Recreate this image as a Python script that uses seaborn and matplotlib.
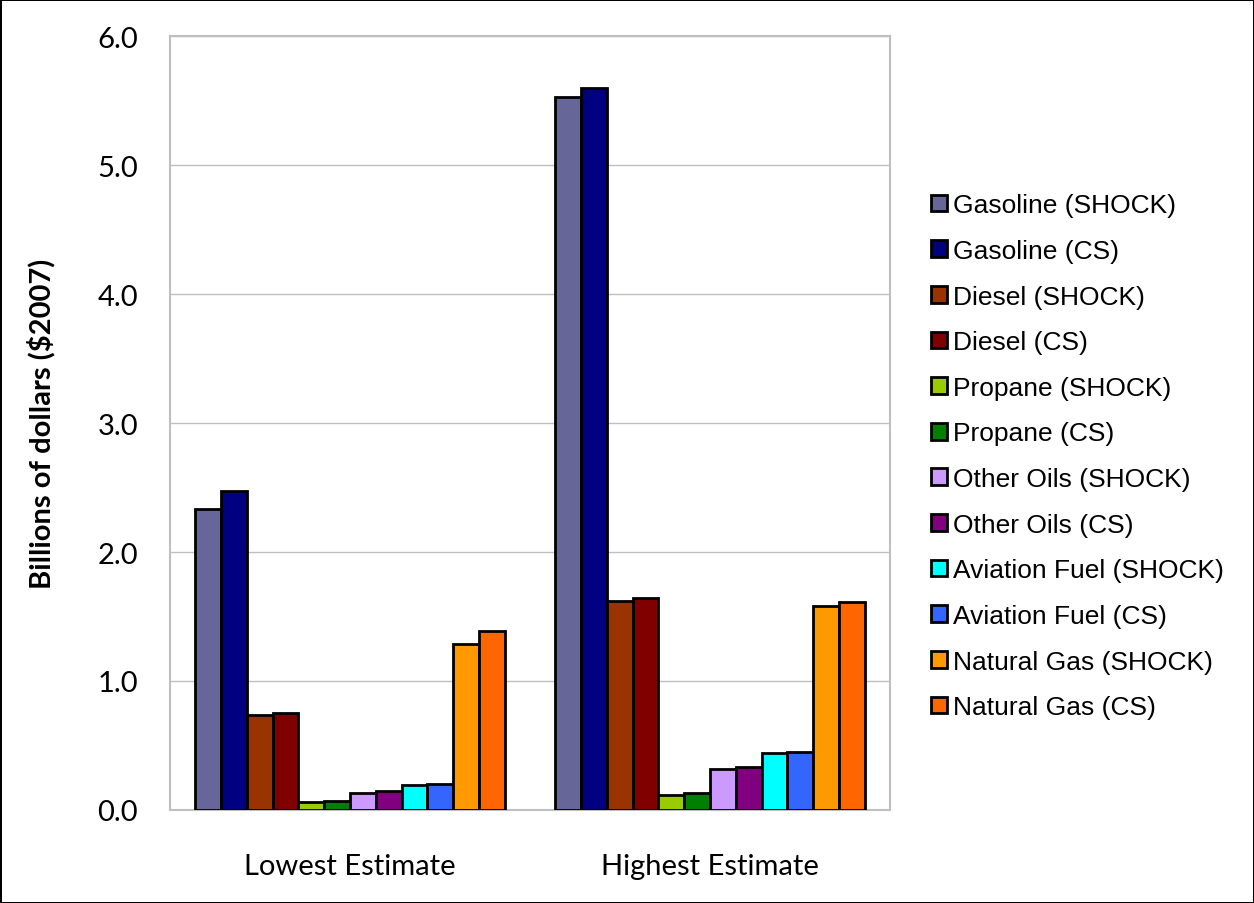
import pandas as pd
import seaborn as sns
import matplotlib.pyplot as plt

# values (billions of 2007 dollars)
estimates = ["Lowest Estimate", "Highest Estimate"]
series = ["Gasoline (SHOCK)", "Gasoline (CS)", "Diesel (SHOCK)", "Diesel (CS)",
          "Propane (SHOCK)", "Propane (CS)", "Other Oils (SHOCK)", "Other Oils (CS)",
          "Aviation Fuel (SHOCK)", "Aviation Fuel (CS)", "Natural Gas (SHOCK)",
          "Natural Gas (CS)"]
lowest = [2.33, 2.47, 0.74, 0.75, 0.06, 0.07, 0.13, 0.15, 0.19, 0.20, 1.29, 1.39]
highest = [5.53, 5.60, 1.62, 1.64, 0.12, 0.13, 0.32, 0.33, 0.44, 0.45, 1.58, 1.61]
colors = ["#666699", "#000080", "#993300", "#800000", "#99CC00", "#008000",
          "#CC99FF", "#800080", "#00FFFF", "#3366FF", "#FF9900", "#FF6600"]

df = pd.DataFrame({
    "estimate": [estimates[0]] * len(series) + [estimates[1]] * len(series),
    "series": series * 2,
    "value": lowest + highest,
})

sns.set_style("white", {"text.color": "black", "axes.labelcolor": "black",
                        "xtick.color": "black", "ytick.color": "black"})
plt.rcParams["font.family"] = ["Liberation Sans", "DejaVu Sans"]

fig = plt.figure(figsize=(12.54, 9.04), dpi=100)
fig.patch.set_edgecolor("black")
fig.patch.set_linewidth(2)
ax = fig.add_axes([0.1356, 0.1029, 0.5741, 0.8561])

sns.barplot(data=df, x="estimate", y="value", hue="series", hue_order=series,
            palette=colors, saturation=1, width=0.86, edgecolor="black",
            linewidth=2, errorbar=None, ax=ax, zorder=3)

ax.set_ylim(0, 6)
ax.set_yticks([0, 1, 2, 3, 4, 5, 6])
ax.set_yticklabels([f"{v:.1f}" for v in range(7)], family="Lato", fontsize=21)
ax.set_xticklabels(estimates, family="Lato", fontsize=21)
ax.set_xlabel("")
ax.set_ylabel("Billions of dollars ($2007)", family="Lato", fontsize=21,
              fontweight="bold", labelpad=30)
ax.yaxis.grid(True, color="#BFBFBF", linewidth=1, zorder=0)
for s in ax.spines.values():
    s.set_color("#BFBFBF")
    s.set_linewidth(1.5)
ax.tick_params(axis="y", length=7, color="#BFBFBF", labelcolor="black",
               width=1.2, pad=16)
ax.tick_params(axis="x", length=0, labelcolor="black", pad=31)

leg = ax.legend(loc="center left", bbox_to_anchor=(1.024, 0.457), frameon=False,
                fontsize=19, handlelength=0.6, handleheight=0.6,
                handletextpad=0.25, labelspacing=0.82)

fig.savefig("out.png", dpi=100)
